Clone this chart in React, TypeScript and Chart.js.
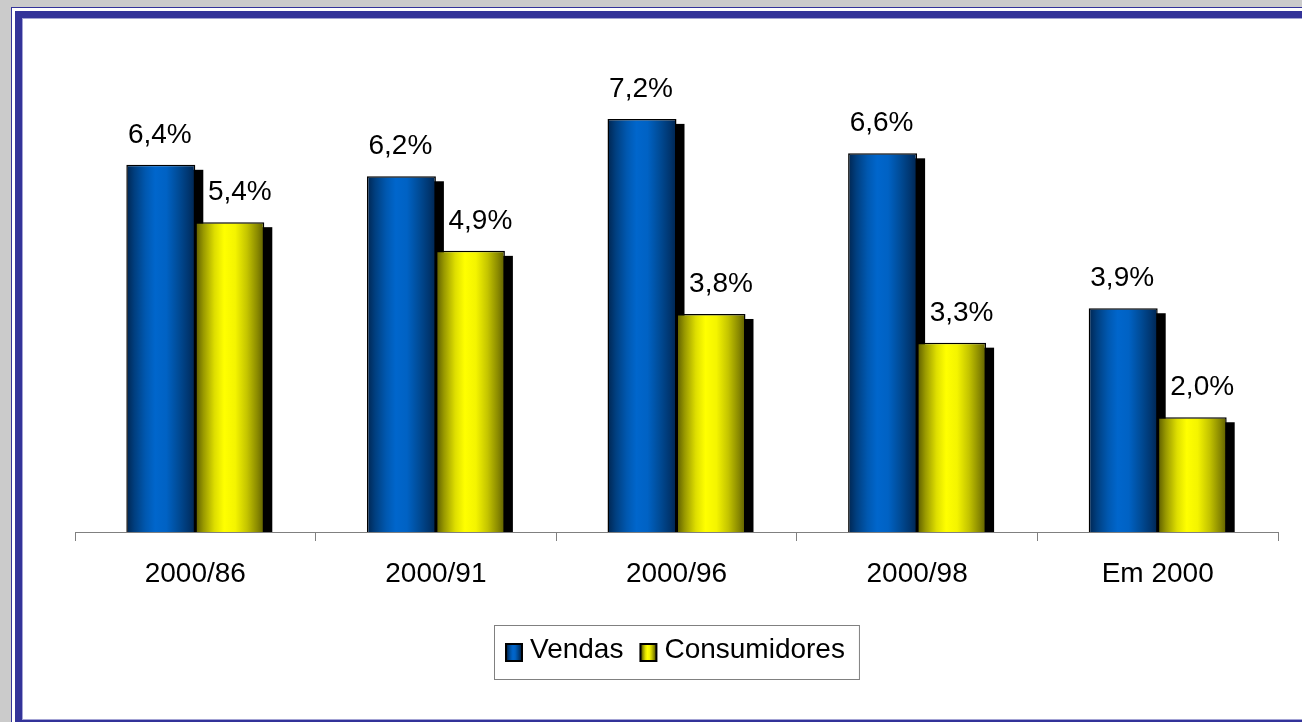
import React, { useEffect, useRef } from "react";
import { Chart, registerables } from "chart.js";

Chart.register(...registerables);

// ---- data ----
const categories = ["2000/86", "2000/91", "2000/96", "2000/98", "Em 2000"];
const vendas = [6.4, 6.2, 7.2, 6.6, 3.9];
const consumidores = [5.4, 4.9, 3.8, 3.3, 2.0];
const seriesNames = ["Vendas", "Consumidores"];
const yMin = 0;
const yMax = 8;

// ---- styles ----
const FONT = "'Liberation Sans', Arial, Helvetica, sans-serif";
const blueStops: [number, string][] = [
  [0, "#002550"],
  [0.12, "#003f80"],
  [0.28, "#0058b0"],
  [0.42, "#0066cc"],
  [0.58, "#0062c4"],
  [0.75, "#004c98"],
  [0.9, "#003670"],
  [1, "#002550"],
];
const yellowStops: [number, string][] = [
  [0, "#5a5a00"],
  [0.12, "#9a9a00"],
  [0.28, "#dede00"],
  [0.42, "#ffff00"],
  [0.58, "#f4f400"],
  [0.75, "#c4c400"],
  [0.9, "#8a8a00"],
  [1, "#5e5e00"],
];

function grad(ctx: CanvasRenderingContext2D, x0: number, x1: number, stops: [number, string][]) {
  const g = ctx.createLinearGradient(x0, 0, x1, 0);
  stops.forEach(([o, c]) => g.addColorStop(o, c));
  return g;
}

const barFill = (stops: [number, string][], fallback: string) => (c: any) => {
  const el = c.element;
  if (!el || typeof el.x !== "number" || !el.width) return fallback;
  return grad(c.chart.ctx, el.x - el.width / 2, el.x + el.width / 2, stops);
};

// black drop shadow behind every bar, drawn before the bars themselves
const SHADOW_DX = 8;
const SHADOW_DY = 5;
const shadowPlugin = {
  id: "barShadow",
  beforeDatasetsDraw(chart: any) {
    const ctx = chart.ctx;
    const area = chart.chartArea;
    ctx.save();
    ctx.fillStyle = "#000000";
    chart.data.datasets.forEach((_: any, di: number) => {
      const meta = chart.getDatasetMeta(di);
      meta.data.forEach((el: any) => {
        const left = el.x - el.width / 2 + SHADOW_DX;
        const top = el.y + SHADOW_DY;
        const bottom = Math.min(el.base, area.bottom);
        if (bottom > top) ctx.fillRect(left, top, el.width, bottom - top);
      });
    });
    ctx.restore();
  },
};

const labelOffsets = [-1, 10];

const valueLabelPlugin = {
  id: "valueLabels",
  afterDatasetsDraw(chart: any) {
    const ctx = chart.ctx;
    ctx.save();
    ctx.font = `28px ${FONT}`;
    ctx.fillStyle = "#000000";
    ctx.textAlign = "center";
    ctx.textBaseline = "alphabetic";
    chart.data.datasets.forEach((ds: any, di: number) => {
      const meta = chart.getDatasetMeta(di);
      meta.data.forEach((el: any, i: number) => {
        const v = ds.data[i] as number;
        const txt = v.toFixed(1).replace(".", ",") + "%";
        ctx.fillText(txt, el.x + labelOffsets[di], el.y - 22);
      });
    });
    ctx.restore();
  },
};

const legendBoxPlugin = {
  id: "legendBox",
  afterDraw(chart: any) {
    const ctx = chart.ctx;
    const area = chart.chartArea;
    ctx.save();
    ctx.font = `28px ${FONT}`;
    const swatch = 18;
    const padL = 11;
    const gapText = 7;
    const gapItem = 16;
    const padR = 14;
    const widths = chart.data.datasets.map((d: any) => ctx.measureText(d.label).width);
    let total = padL + padR;
    widths.forEach((w: number, i: number) => {
      total += swatch + gapText + w + (i > 0 ? gapItem : 0);
    });
    const cx = (area.left + area.right) / 2;
    const boxLeft = Math.round(cx - total / 2);
    const boxTop = 625;
    const boxH = 54;
    ctx.strokeStyle = "#808080";
    ctx.lineWidth = 1;
    ctx.strokeRect(boxLeft + 0.5, boxTop + 0.5, total, boxH);
    let x = boxLeft + padL;
    const stopsList = [blueStops, yellowStops];
    chart.data.datasets.forEach((d: any, i: number) => {
      const sy = 643;
      ctx.fillStyle = "#000000";
      ctx.fillRect(x, sy, swatch, swatch + 1);
      ctx.fillStyle = grad(ctx, x + 2, x + swatch - 2, stopsList[i]);
      ctx.fillRect(x + 2, sy + 2, swatch - 4, swatch - 3);
      x += swatch + gapText;
      ctx.fillStyle = "#000000";
      ctx.textAlign = "left";
      ctx.textBaseline = "alphabetic";
      ctx.fillText(d.label, x, 658);
      x += widths[i] + gapItem;
    });
    ctx.restore();
  },
};

export default function App() {
  const ref = useRef<HTMLCanvasElement | null>(null);

  useEffect(() => {
    if (!ref.current) return;
    const chart = new Chart(ref.current, {
      type: "bar",
      data: {
        labels: categories,
        datasets: [
          {
            label: seriesNames[0],
            data: vendas,
            backgroundColor: barFill(blueStops, "#0060c0"),
            borderColor: "#000000",
            borderWidth: 1.5,
            borderSkipped: "bottom",
            categoryPercentage: 0.5735,
            barPercentage: 1,
          },
          {
            label: seriesNames[1],
            data: consumidores,
            backgroundColor: barFill(yellowStops, "#e6e600"),
            borderColor: "#000000",
            borderWidth: 1.5,
            borderSkipped: "bottom",
            categoryPercentage: 0.5735,
            barPercentage: 1,
          },
        ],
      },
      options: {
        responsive: false,
        animation: false,
        devicePixelRatio: 1,
        layout: { padding: { left: 75, right: 24, top: 73, bottom: 0 } },
        plugins: {
          legend: { display: false },
          tooltip: { enabled: false },
          title: { display: false },
        },
        scales: {
          x: {
            offset: true,
            grid: {
              display: true,
              drawOnChartArea: false,
              drawTicks: true,
              tickLength: 9,
              color: "#808080",
              offset: true,
            },
            border: { display: true, color: "#808080", width: 1 },
            ticks: {
              color: "#000000",
              padding: 16,
              font: { family: FONT, size: 28 },
              maxRotation: 0,
              autoSkip: false,
            },
            afterFit: (scale: any) => {
              scale.height = 190;
            },
          },
          y: {
            display: false,
            min: yMin,
            max: yMax,
          },
        },
      },
      plugins: [shadowPlugin, valueLabelPlugin, legendBoxPlugin],
    });
    chart.update();
    return () => chart.destroy();
  }, []);

  return (
    <div
      style={{
        position: "fixed",
        left: 0,
        top: 0,
        width: 1302,
        height: 722,
        overflow: "hidden",
        background: "#cbcbcb",
      }}
    >
      <div
        style={{
          position: "absolute",
          left: 11,
          top: 7,
          width: 1320,
          height: 740,
          boxSizing: "border-box",
          border: "1.5px solid #333399",
          background: "#ffffff",
        }}
      />
      <div
        style={{
          position: "absolute",
          left: 15,
          top: 11,
          width: 1320,
          height: 716,
          boxSizing: "border-box",
          border: "7px solid #333399",
          boxShadow: "inset 0 0 0 1px #a3a3d4",
          background: "#ffffff",
        }}
      />
      <canvas
        ref={ref}
        width={1302}
        height={722}
        style={{ position: "absolute", left: 0, top: 0, width: 1302, height: 722 }}
      />
    </div>
  );
}
